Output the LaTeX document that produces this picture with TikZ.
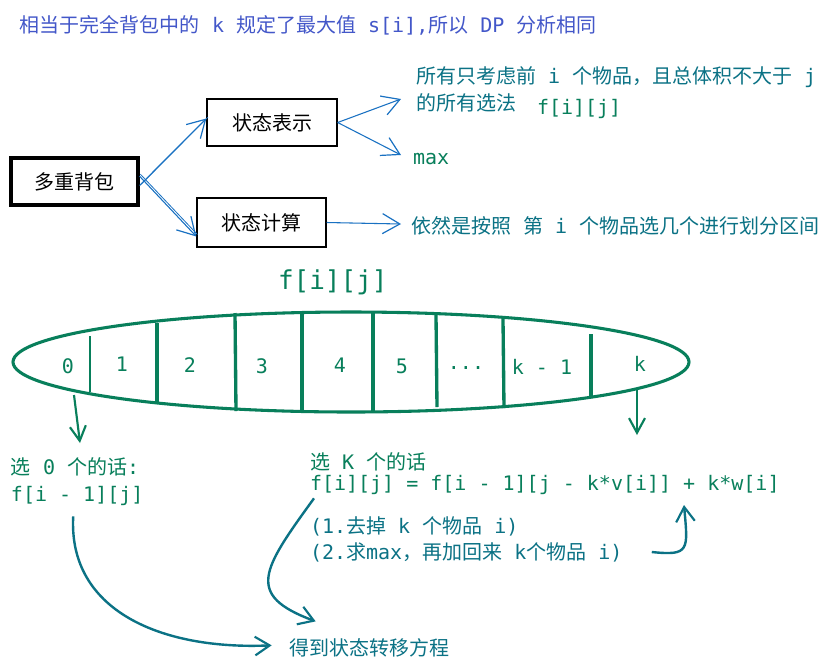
\documentclass[tikz,border=0pt]{standalone}
\usepackage{fontspec}
\setmainfont{Noto Sans CJK SC}
\newfontfamily\mono{DejaVu Sans Mono}
\newcommand\mt[1]{{\mono #1}}
\usetikzlibrary{arrows.meta,shapes.geometric}
\definecolor{cblue}{HTML}{4357C9}
\definecolor{cteal}{HTML}{0B7285}
\definecolor{cgreen}{HTML}{087F5B}
\definecolor{carrow}{HTML}{1971C2}
\tikzset{
  txt/.style={anchor=west, inner sep=0pt, outer sep=0pt},
  boxnode/.style={draw=black, line width=1pt, inner sep=0pt, align=center},
  barrow/.style={draw=carrow, line width=0.8pt, -{Straight Barb[length=13pt,width=15pt,line width=0.9pt]}},
  bline/.style={draw=carrow, line width=0.6pt},
  garrow/.style={draw=cgreen, line width=1.6pt, -{Straight Barb[length=11pt,width=12pt,line width=1.6pt]}},
  tarrow/.style={draw=cteal, line width=1.8pt, -{Straight Barb[length=11pt,width=14pt,line width=1.6pt]}},
  divider/.style={draw=cgreen, line width=2.5pt},
  lbl/.style={text=cgreen, font=\mono\fontsize{15}{18}\selectfont, inner sep=0pt}
}
\begin{document}
\begin{tikzpicture}[x=0.75pt,y=-0.75pt, font=\fontsize{15}{18}\selectfont]
\useasboundingbox[fill=white] (0,0) rectangle (836,669);

% title
\node[txt, text=cblue] (title) at (20,25) {相当于完全背包中的\mt{ k }规定了最大值\mt{ s[i],}所以\mt{ DP }分析相同};

% boxes
\node[boxnode, line width=2.3pt, minimum width=127*0.75pt, minimum height=47*0.75pt] (multi) at (74.5,181.5) {多重背包};
\node[boxnode, minimum width=130*0.75pt, minimum height=47*0.75pt] (rep) at (272,122.5) {状态表示};
\node[boxnode, minimum width=129*0.75pt, minimum height=49*0.75pt] (calc) at (261.5,222.5) {状态计算};

% right texts
\node[txt, text=cteal] (t1) at (416,77) {所有只考虑前\mt{ i }个物品，且总体积不大于\mt{ j}};
\node[txt, text=cteal] (t2) at (416,103) {的所有选法};
\node[txt, text=cgreen] (t3) at (537,109) {\mono f[i][j]};
\node[txt, text=cgreen] (t4) at (413,159) {\mono max};
\node[txt, text=cteal] (t5) at (411,226) {依然是按照\mt{ }第\mt{ i }个物品选几个进行划分区间};

\coordinate (a1) at (401,99);
\coordinate (a2) at (401,155);
\coordinate (a3) at (401,224);

% blue arrows
\draw[barrow] ([yshift=-3pt]multi.east) -- ([yshift=3pt]rep.west);
\draw[bline] ([shift={(1.2pt,-2pt)}]multi.east) -- ([shift={(1.2pt,4pt)}]rep.west);
\draw[barrow] ([yshift=4pt]multi.east) -- ([yshift=-10.5pt]calc.west);
\draw[bline] ([shift={(0.6pt,5.5pt)}]multi.east) -- ([shift={(0.8pt,-9pt)}]calc.west);
\draw[barrow] (rep.east) -- (a1);
\draw[barrow] (rep.east) -- (a2);
\draw[barrow] (calc.east) -- (a3);

% big f[i][j]
\node[txt, text=cgreen, font=\mono\fontsize{19.5}{22}\selectfont] (ftitle) at (278,282) {f[i][j]};

% ellipse
\node[draw=cgreen, line width=2.3pt, ellipse, minimum width=676*0.75pt, minimum height=100*0.75pt, inner sep=0pt] (arr) at (351,362) {};
\draw[divider, line width=1.6pt] (90,336) -- (90,392);
\draw[divider] (157,323) -- (157,403);
\draw[divider] (235,313) -- (236,411);
\draw[divider] (302,312) -- (302,413);
\draw[divider] (373,313) -- (373,413);
\draw[divider] (436,315) -- (437,407);
\draw[divider] (503,319) -- (504,408);
\draw[divider] (591,334) -- (591,398);

\node[lbl] (l0) at (68,366) {0};
\node[lbl] (l1) at (122,364) {1};
\node[lbl] (l2) at (190,365) {2};
\node[lbl] (l3) at (262,366) {3};
\node[lbl] (l4) at (340,365) {4};
\node[lbl] (l5) at (402,366) {5};
\node[lbl] (l6) at (466,368) {...};
\node[lbl] (l7) at (542,367) {k - 1};
\node[lbl] (l8) at (640,364) {k};

% bottom texts
\node[txt, text=cgreen] (s0) at (11,467) {选\mt{ 0 }个的话\mt{:}};
\node[txt, text=cgreen] (s0f) at (11,496) {\mono f[i - 1][j]};
\node[txt, text=cgreen] (sk) at (310,462) {选\mt{ K }个的话};
\node[txt, text=cgreen] (skf) at (310,485) {\mono f[i][j] = f[i - 1][j - k*v[i]] + k*w[i]};
\node[txt, text=cteal] (n1) at (310,526) {\mt{(1.}去掉\mt{ k }个物品\mt{ i)}};
\node[txt, text=cteal] (n2) at (310,552) {\mt{(2.}求\mt{max}，再加回来\mt{ k}个物品\mt{ i)}};
\node[txt, text=cteal] (res) at (289,648) {得到状态转移方程};

% green down arrows
\coordinate (d0) at (74,395);
\coordinate (d0e) at (80,443);
\coordinate (dk) at (637,390);
\coordinate (dke) at (637,435);
\draw[garrow] (d0) -- (d0e);
\draw[garrow] (dk) -- (dke);

% teal arrows
\coordinate (kw) at (684,505);
\draw[tarrow] ([shift={(-3pt,-8pt)}]s0f.south) .. controls (68,610) and (160,650) .. ([shift={(-13pt,2pt)}]res.west);
\draw[tarrow] ([shift={(3pt,-10pt)}]skf.west) .. controls (262,570) and (245,595) .. ([shift={(20pt,13pt)}]res.north west);
\draw[tarrow] ([xshift=22pt]n2.east) .. controls (690,556) and (688,550) .. (kw);
\end{tikzpicture}
\end{document}
